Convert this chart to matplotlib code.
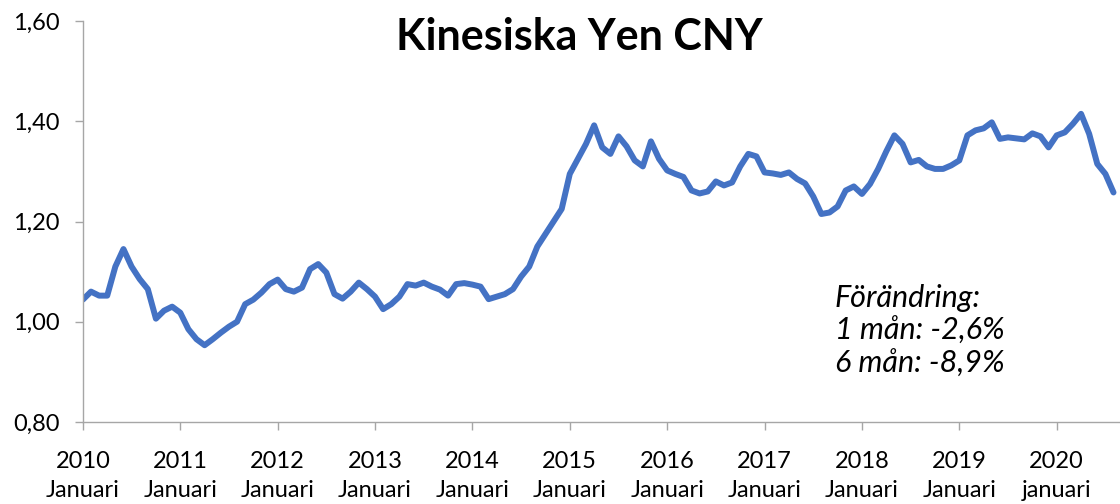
import matplotlib
matplotlib.use("Agg")
import matplotlib.pyplot as plt

plt.rcParams["font.family"] = ["Lato", "DejaVu Sans"]

# Monthly values, Jan 2010 .. Aug 2020 (SEK per CNY)
values = [
    1.044, 1.060, 1.052, 1.052, 1.110, 1.145, 1.110, 1.085, 1.065, 1.006, 1.022, 1.030,   # 2010
    1.018, 0.985, 0.965, 0.953, 0.965, 0.978, 0.990, 1.000, 1.035, 1.044, 1.058, 1.075,   # 2011
    1.084, 1.065, 1.060, 1.068, 1.105, 1.115, 1.098, 1.055, 1.046, 1.060, 1.078, 1.065,   # 2012
    1.050, 1.025, 1.035, 1.050, 1.075, 1.072, 1.078, 1.070, 1.064, 1.052, 1.075, 1.077,   # 2013
    1.074, 1.070, 1.045, 1.050, 1.055, 1.065, 1.090, 1.110, 1.150, 1.175, 1.200, 1.225,   # 2014
    1.295, 1.325, 1.355, 1.392, 1.348, 1.335, 1.370, 1.350, 1.322, 1.310, 1.360, 1.325,   # 2015
    1.302, 1.295, 1.289, 1.262, 1.256, 1.260, 1.280, 1.272, 1.278, 1.310, 1.335, 1.330,   # 2016
    1.298, 1.296, 1.293, 1.298, 1.285, 1.276, 1.250, 1.215, 1.218, 1.230, 1.262, 1.270,   # 2017
    1.255, 1.275, 1.305, 1.340, 1.372, 1.355, 1.318, 1.323, 1.310, 1.305, 1.305, 1.312,   # 2018
    1.322, 1.372, 1.382, 1.386, 1.398, 1.365, 1.368, 1.366, 1.364, 1.376, 1.370, 1.348,   # 2019
    1.372, 1.378, 1.395, 1.415, 1.375, 1.315, 1.295, 1.258,                               # 2020
]
months = list(range(len(values)))

tick_pos = [0, 12, 24, 36, 48, 60, 72, 84, 96, 108, 120]
tick_labels = [f"{y}\nJanuari" for y in range(2010, 2020)] + ["2020\njanuari"]
y_ticks = [0.80, 1.00, 1.20, 1.40, 1.60]

title = "Kinesiska Yen CNY"
note = "Förändring:\n1 mån: -2,6%\n6 mån: -8,9%"

fig = plt.figure(figsize=(11.2, 5.04), dpi=100)
ax = fig.add_axes([0.074, 0.163, 0.926, 0.795])

ax.plot(months, values, color="#4472C4", lw=4.3, solid_joinstyle="round", solid_capstyle="round")

ax.set_xlim(0, 127.8)
ax.set_ylim(0.80, 1.60)
ax.set_yticks(y_ticks)
ax.set_yticklabels([f"{v:.2f}".replace(".", ",") for v in y_ticks])
ax.set_xticks(tick_pos)
ax.set_xticklabels(tick_labels, linespacing=1.45)

for s in ["top", "right"]:
    ax.spines[s].set_visible(False)
for s in ["left", "bottom"]:
    ax.spines[s].set_color("#A6A6A6")
    ax.spines[s].set_linewidth(1.0)
ax.tick_params(axis="both", colors="#A6A6A6", length=6, width=1.0,
               labelcolor="black", labelsize=17)
ax.tick_params(axis="x", pad=15)
ax.tick_params(axis="y", pad=11)

ax.text(0.479, 1.01, title, transform=ax.transAxes, ha="center", va="top",
        fontsize=31, fontweight="bold")
ax.text(0.725, 0.345, note, transform=ax.transAxes, ha="left", va="top",
        fontsize=22, style="italic", linespacing=1.2)

fig.savefig("out.png", dpi=100)
